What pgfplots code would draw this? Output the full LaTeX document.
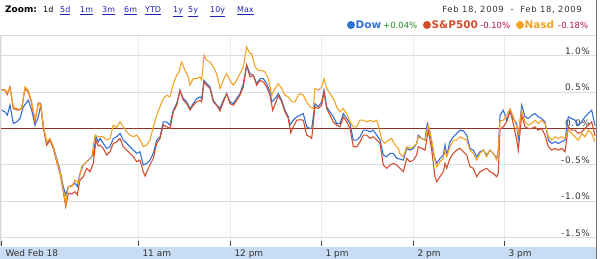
\documentclass[border=0pt]{standalone}
\usepackage{pgfplots}
\pgfplotsset{compat=1.18}
\usepackage{fontspec}
\setmainfont{DejaVu Sans}
\newfontfamily\spaced[LetterSpace=8]{DejaVu Sans}
\definecolor{bandblue}{RGB}{200,220,243}
\definecolor{gridc}{RGB}{216,219,233}
\definecolor{xgridc}{RGB}{236,236,241}
\definecolor{zeroc}{RGB}{140,52,40}
\definecolor{dowc}{RGB}{50,112,212}
\definecolor{spc}{RGB}{212,78,46}
\definecolor{nasc}{RGB}{245,163,38}
\definecolor{linkc}{RGB}{34,34,190}
\definecolor{greenc}{RGB}{30,140,40}
\definecolor{negc}{RGB}{180,20,80}
\begin{document}
\begin{tikzpicture}
\useasboundingbox (0bp,0bp) rectangle (600bp,259bp);
\fill[bandblue] (0bp,0bp) rectangle (596bp,11.5bp);
\begin{axis}[
  at={(0bp,13bp)}, anchor=south west,
  scale only axis, width=596bp, height=211bp,
  xmin=0, xmax=596, ymin=-1.614, ymax=1.284,
  axis line style={draw=none},
  xtick={1,138,230,321,413,504},
  xticklabels={Wed Feb 18,11 am,12 pm,1 pm,2 pm,3 pm},
  xtick pos=bottom, tick align=inside,
  major tick length=4.5bp,
  x tick style={black!75, line width=0.8bp},
  xticklabel style={anchor=base west, yshift=-10.5bp, xshift=1bp,
    font=\fontsize{9}{10}\selectfont, text=black!80},
  xmajorgrids, x grid style={xgridc, line width=0.8bp},
  ytick={-1.5,-1,-0.5,0,0.5,1},
  yticklabels={-1.5\%,-1.0\%,-0.5\%,0.0\%,0.5\%,1.0\%},
  yticklabel pos=right,
  y tick style={draw=none},
  yticklabel style={anchor=base east, xshift=-2.5bp, yshift=1.5bp,
    font=\spaced\fontsize{9}{10}\selectfont, text=black!80},
  ymajorgrids, y grid style={gridc, line width=1bp},
]
\addplot[zeroc, line width=0.9bp] coordinates {(0,0) (596,0)};
% Dow
\addplot[dowc, line width=1.1bp] coordinates {
(1.7,0.251)(5,0.228)(7.3,0.183)(10,0.320)(13.3,0.068)(16.7,0.091)(20,0.137)(23.3,0.297)(28.3,0.388)(31.7,0.251)(35,0.046)(38.3,0.160)(40.7,0.320)(43.3,0.023)(46.7,-0.205)(50,-0.160)(53.3,-0.251)(56.7,-0.411)(60,-0.571)(63.3,-0.799)(65.7,-0.913)(68.3,-0.799)(71.7,-0.785)(75,-0.753)(77.3,-0.799)(80,-0.616)(83.3,-0.502)(86.7,-0.457)(90,-0.411)(93.3,-0.365)(96,-0.114)(98.3,-0.183)
(100,-0.137)(103.3,-0.205)(106.7,-0.274)(110,-0.251)(113.3,-0.137)(116.7,-0.114)(120,-0.068)(123.3,-0.160)(126.7,-0.205)(130,-0.251)(133.3,-0.297)(136.7,-0.342)(140,-0.320)(143.3,-0.502)(146.7,-0.479)(150,-0.434)(153.3,-0.342)(156.7,-0.160)(160,-0.114)(163.3,0.091)(166.7,0.091)(170,0.046)(173.3,0.251)(176.7,0.342)(180,0.525)(183.3,0.411)(186.7,0.365)(190,0.274)(193.3,0.342)(196.7,0.411)
(200,0.434)(201.7,0.411)(204,0.662)(206.7,0.616)(210,0.571)(213.3,0.388)(216.7,0.320)(220,0.274)(223.3,0.388)(226.7,0.479)(230,0.365)(233.3,0.342)(236.7,0.411)(240,0.479)(243.3,0.616)(246.7,0.868)(250,0.753)(253.3,0.731)(256.7,0.616)(260,0.685)(263.3,0.685)(266.7,0.616)(270,0.502)(271.7,0.365)(275,0.411)(278.3,0.479)(281.7,0.388)(285,0.251)(288.3,0.160)(290,0.046)(293.3,0.114)(296.7,0.160)
(300,0.183)(303.3,0.205)(306.7,0.023)(310,0.000)(311.7,0.000)(315,0.342)(318.3,0.297)(321.7,0.365)(324,0.525)(326.7,0.297)(330,0.228)(333.3,0.160)(336.7,0.068)(340,0.068)(343.3,0.205)(346.7,0.137)(350,0.068)(353.3,-0.160)(356.7,-0.160)(360,-0.114)(363.3,-0.023)(366.7,-0.023)(370,-0.046)(373.3,-0.023)(376.7,-0.091)(380,-0.160)(383.3,-0.365)(386.7,-0.388)(390,-0.342)(393.3,-0.342)(396.7,-0.411)
(400,-0.42)(403.3,-0.434)(406.7,-0.274)(410,-0.297)(413.3,-0.274)(416.7,-0.205)(418.3,-0.091)(421.7,-0.137)(425,-0.160)(427.3,0.068)(430,-0.046)(433.3,-0.342)(436.7,-0.479)(440,-0.411)(443.3,-0.365)(445,-0.228)(446.7,-0.365)(450,-0.183)(453.3,-0.114)(456.7,-0.068)(460,-0.023)(463.3,-0.032)(466.7,-0.091)(470,-0.274)(473.3,-0.297)(476.7,-0.388)(480,-0.320)(483.3,-0.297)(486.7,-0.365)(490,-0.297)(493.3,-0.342)(496.7,-0.411)(498.3,-0.297)
(500,0.18)(503.3,0.251)(506.7,0.114)(510,0.228)(513.3,0.137)(516.7,0.068)(518.3,-0.137)(521.7,0.320)(525,0.160)(528.3,0.137)(531.7,0.183)(535,0.205)(538.3,0.160)(541.7,0.137)(545,0.091)(548.3,-0.160)(551.7,-0.205)(555,-0.183)(558.3,-0.205)(561.7,-0.183)(565,-0.160)(568.3,0.160)(571.7,0.137)(575,0.114)(578.3,0.046)(581.7,0.091)(585,0.160)(588.3,0.205)(591.7,0.251)(595,0.04)
};
% S&P500
\addplot[spc, line width=1.1bp] coordinates {
(1.7,0.534)(5,0.525)(7.3,0.466)(10,0.571)(13.3,0.274)(18.3,0.251)(21.7,0.274)(25,0.548)(28.3,0.502)(31.7,0.342)(35,0.091)(38.3,0.352)(40.7,0.333)(43.3,0.023)(46.7,-0.228)(50,-0.160)(53.3,-0.274)(56.7,-0.457)(60,-0.616)(63.3,-0.868)(65.7,-1.073)(68.3,-0.890)(71.7,-0.900)(75,-0.868)(77.3,-0.913)(80,-0.708)(83.3,-0.662)(86.7,-0.548)(90,-0.594)(93.3,-0.479)(96,-0.160)(98.3,-0.242)
(100,-0.23)(103.3,-0.274)(106.7,-0.365)(110,-0.320)(113.3,-0.205)(116.7,-0.183)(120,-0.137)(123.3,-0.251)(126.7,-0.297)(130,-0.342)(133.3,-0.388)(136.7,-0.457)(140,-0.434)(143.3,-0.594)(145,-0.653)(148.3,-0.548)(153.3,-0.411)(156.7,-0.205)(160,-0.137)(163.3,0.046)(166.7,0.023)(170,0.000)(173.3,0.228)(176.7,0.320)(180,0.525)(183.3,0.388)(186.7,0.342)(190,0.251)(193.3,0.320)(196.7,0.365)
(200,0.388)(201.7,0.365)(204,0.639)(206.7,0.594)(210,0.548)(213.3,0.365)(216.7,0.320)(220,0.242)(223.3,0.365)(226.7,0.479)(230,0.342)(233.3,0.320)(236.7,0.388)(240,0.457)(243.3,0.571)(246.7,0.868)(250,0.708)(253.3,0.731)(256.7,0.594)(260,0.662)(263.3,0.639)(266.7,0.571)(270,0.457)(272.7,0.251)(276,0.365)(278.3,0.457)(281.7,0.365)(285,0.228)(288.3,0.137)(290.7,-0.059)(293.3,0.023)(296.7,0.114)
(300,0.12)(303.3,0.114)(306.7,-0.091)(310,-0.114)(311.7,-0.137)(315,0.297)(318.3,0.274)(321.7,0.320)(324,0.502)(326.7,0.274)(330,0.183)(333.3,0.091)(336.7,0.046)(340,0.023)(343.3,0.160)(346.7,0.091)(350,0.000)(353.3,-0.251)(356.7,-0.251)(360,-0.183)(363.3,-0.091)(366.7,-0.091)(370,-0.137)(373.3,-0.114)(376.7,-0.160)(380,-0.205)(383.3,-0.502)(386.7,-0.548)(390,-0.502)(393.3,-0.479)(396.7,-0.502)
(400,-0.548)(403.3,-0.594)(406.7,-0.411)(410,-0.457)(413.3,-0.434)(416.7,-0.365)(418.3,-0.251)(421.7,-0.274)(425,-0.297)(428.3,-0.023)(431.7,-0.297)(435,-0.662)(436.7,-0.731)(440,-0.662)(443.3,-0.594)(445,-0.479)(446.7,-0.548)(450,-0.411)(453.3,-0.342)(456.7,-0.297)(460,-0.274)(463.3,-0.320)(466.7,-0.365)(470,-0.525)(473.3,-0.548)(476.7,-0.662)(480,-0.594)(483.3,-0.571)(486.7,-0.548)(490,-0.594)(493.3,-0.616)(496.7,-0.662)(498.3,-0.616)
(500,-0.01)(503.3,0.023)(506.7,0.091)(510,0.251)(513.3,0.068)(516.7,-0.160)(518.3,-0.297)(521.7,0.183)(525,0.023)(528.3,0.000)(531.7,0.000)(535,0.023)(538.3,-0.023)(541.7,0.000)(545,-0.091)(548.3,-0.251)(551.7,-0.297)(555,-0.274)(558.3,-0.297)(561.7,-0.274)(565,-0.320)(568.3,0.023)(571.7,-0.023)(575,-0.023)(578.3,-0.068)(581.7,-0.046)(585,0.000)(588.3,0.046)(591.7,0.091)(595,-0.10)
};
% Nasdaq
\addplot[nasc, line width=1.1bp] coordinates {
(1.7,0.525)(5,0.534)(7.3,0.489)(10,0.557)(13.3,0.297)(18.3,0.265)(21.7,0.274)(25,0.571)(28.3,0.525)(31.7,0.365)(35,0.114)(38.3,0.342)(40.7,0.320)(43.3,0.046)(46.7,-0.183)(50,-0.137)(53.3,-0.251)(56.7,-0.434)(60,-0.594)(63.3,-0.845)(65.7,-1.027)(68.3,-0.799)(71.7,-0.799)(75,-0.708)(78.3,-0.753)(81.7,-0.525)(85,-0.479)(88.3,-0.434)(91.7,-0.388)(95,-0.091)(98.3,-0.114)
(100,-0.11)(103.3,-0.114)(106.7,-0.160)(110,-0.137)(113.3,0.046)(116.7,0.014)(120,0.091)(123.3,0.023)(126.7,-0.046)(130,-0.091)(133.3,-0.114)(136.7,-0.091)(140,-0.160)(143.3,-0.251)(146.7,-0.228)(150,-0.160)(153.3,0.023)(156.7,0.183)(160,0.297)(163.3,0.411)(166.7,0.457)(170,0.434)(173.3,0.616)(176.7,0.731)(178.3,0.753)(181.7,0.913)(185,0.799)(188.3,0.708)(190,0.594)(193.3,0.685)(196.7,0.685)
(200,0.708)(201.7,0.662)(204,1.005)(206.7,0.936)(210,0.913)(213.3,0.845)(216.7,0.753)(220,0.548)(223.3,0.662)(226.7,0.753)(230,0.662)(233.3,0.594)(236.7,0.662)(240,0.753)(243.3,0.845)(246.7,1.119)(250,1.027)(251.7,1.027)(255,0.845)(258.3,0.799)(261.7,0.799)(265,0.776)(268.3,0.685)(271.7,0.457)(275,0.548)(278.3,0.616)(281.7,0.548)(285,0.457)(288.3,0.434)(291.7,0.365)(295,0.365)(298.3,0.457)
(300,0.479)(303.3,0.457)(306.7,0.365)(310,0.297)(313.3,0.274)(315,0.548)(318.3,0.525)(321.7,0.571)(324,0.685)(326.7,0.548)(330,0.479)(333.3,0.411)(336.7,0.297)(340,0.228)(343.3,0.274)(346.7,0.205)(350,0.091)(353.3,0.023)(356.7,0.023)(360,0.114)(363.3,0.114)(366.7,0.091)(370,0.114)(373.3,0.091)(376.7,0.114)(378.3,0.046)(381.7,-0.160)(385,-0.205)(388.3,-0.160)(391.7,-0.137)(395,-0.228)(398.3,-0.274)
(400,-0.35)(403.3,-0.388)(406.7,-0.251)(410,-0.274)(413.3,-0.251)(416.7,-0.205)(418.3,-0.114)(421.7,-0.137)(425,-0.160)(428.3,0.046)(431.7,-0.160)(435,-0.434)(436.7,-0.525)(440,-0.457)(443.3,-0.411)(445,-0.297)(446.7,-0.388)(450,-0.251)(453.3,-0.160)(456.7,-0.160)(460,-0.114)(463.3,-0.137)(466.7,-0.160)(470,-0.297)(473.3,-0.342)(476.7,-0.434)(480,-0.342)(483.3,-0.297)(486.7,-0.388)(490,-0.297)(493.3,-0.342)(496.7,-0.434)(498.3,-0.297)
(500,0.10)(503.3,0.114)(506.7,0.183)(510,0.274)(513.3,0.160)(516.7,0.023)(518.3,-0.068)(521.7,0.251)(525,0.091)(528.3,0.046)(531.7,0.068)(535,0.114)(538.3,0.068)(541.7,0.114)(545,0.068)(548.3,-0.114)(551.7,-0.160)(555,-0.114)(558.3,-0.137)(561.7,-0.114)(565,-0.137)(568.3,-0.023)(571.7,-0.068)(575,-0.114)(578.3,-0.160)(581.7,-0.068)(585,-0.114)(588.3,-0.023)(591.7,-0.068)(595,-0.18)
};
\end{axis}
% frame
\draw[black!15, line width=0.8bp] (0.4bp,13bp) -- (0.4bp,224bp) -- (596bp,224bp);
\draw[black!55, line width=0.9bp] (596bp,0bp) -- (596bp,259bp);
% header
\begin{scope}[every node/.style={inner sep=0pt, anchor=base west}]
\node at (5bp,246bp) {\fontsize{9}{10}\selectfont\bfseries Zoom:};
\node at (43bp,246bp) {\fontsize{8}{10}\selectfont 1d};
\foreach \xx/\tt in {60/5d,80/1m,102/3m,124/6m,145/YTD,173/1y,188/5y,210/10y,237/Max}{
  \node[text=linkc] at (\xx bp,246bp) {\fontsize{8}{10}\selectfont\underline{\tt}};
}
\node[anchor=base east, text=black!80] at (582bp,246bp) {\spaced\fontsize{8.5}{10}\selectfont Feb 18, 2009\ \ -\ \ Feb 18, 2009};
% legend
\fill[dowc] (351bp,234bp) circle (4bp);
\node[text=dowc] at (355.5bp,230.5bp) {\fontsize{10.5}{12}\selectfont\bfseries Dow};
\node[text=greenc] at (383bp,230.5bp) {\fontsize{8.5}{10}\selectfont +0.04\%};
\fill[spc] (427bp,234bp) circle (4bp);
\node[text=spc] at (431.5bp,230.5bp) {\fontsize{10.5}{12}\selectfont\bfseries S\&P500};
\node[text=negc] at (480bp,230.5bp) {\fontsize{8.5}{10}\selectfont -0.10\%};
\fill[nasc] (520bp,234bp) circle (4bp);
\node[text=nasc] at (524.5bp,230.5bp) {\fontsize{10.5}{12}\selectfont\bfseries Nasd};
\node[text=negc] at (558bp,230.5bp) {\fontsize{8.5}{10}\selectfont -0.18\%};
\end{scope}
\end{tikzpicture}
\end{document}
